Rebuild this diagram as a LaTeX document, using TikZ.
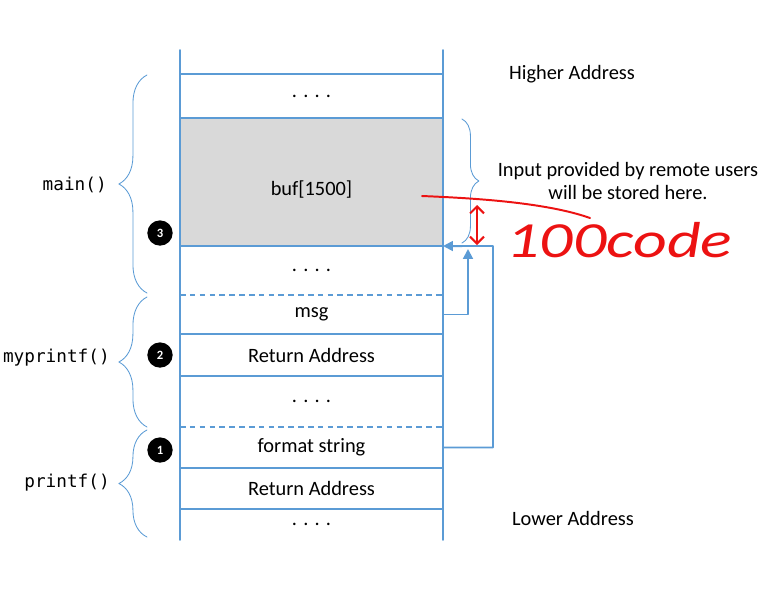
\documentclass[tikz,border=0pt]{standalone}
\usepackage{fontspec}
\setmainfont{Carlito}
\newfontfamily\codefont{DejaVu Sans Mono}
\usetikzlibrary{arrows.meta,decorations.pathreplacing}
\definecolor{stackblue}{RGB}{91,155,213}
\definecolor{bufgray}{RGB}{217,217,217}
\definecolor{inkred}{RGB}{236,18,18}
\tikzset{
  cell/.style={minimum width=6.575cm,inner sep=0pt,outer sep=0pt},
  numdot/.style={circle,fill=black,text=white,inner sep=0pt,minimum size=18pt,font=\bfseries\small},
  framebrace/.style={stackblue,line width=0.6pt,decorate,decoration={brace,amplitude=20pt}},
  funclbl/.style={anchor=east,inner sep=0pt,font=\codefont\fontsize{12.6}{15}\selectfont},
  link/.style={stackblue,line width=1.4pt,-{Triangle[length=7pt,width=7pt]}},
  ink/.style={inkred,line width=1.4pt}
}
\begin{document}
\begin{tikzpicture}[x=0.025cm,y=-0.025cm,line cap=round,line join=round,font=\fontsize{14.5}{17}\selectfont]
  \useasboundingbox (0,0) rectangle (783,593);
  % stack cells
  \node[cell,fill=bufgray,minimum height=3.2cm] (buf) at (311.5,182) {};
  \foreach \y/\h/\nm/\txt in {96/44/top/{. . . .},270.5/49/gapa/{. . . .},314.5/39/msg/msg,355/42/reta/Return Address,401.5/51/gapb/{. . . .},447.5/41/fmt/format string,488.5/41/retb/Return Address,524.5/31/bot/{. . . .}}
    \node[cell,minimum height=\h*0.025cm] (\nm) at (311.5,\y) {\txt};
  \node (buftxt) at (311.5,190) {buf[1500]};
  % frame
  \draw[stackblue,line width=1.2pt] (180,50) -- (180,540) (443,50) -- (443,540);
  \foreach \y in {74,118,246,334,376,468,509}
    \draw[stackblue,line width=1.2pt] (180,\y) -- (443,\y);
  \foreach \y in {295,427}
    \draw[stackblue,line width=1.2pt,dash pattern=on 4pt off 3pt,line cap=butt] (180,\y) -- (443,\y);
  % frames of the functions
  \draw[framebrace] (147,293) -- (147,75);
  \draw[framebrace] (147,427) -- (147,297);
  \draw[framebrace] (147,537) -- (147,430);
  \node[funclbl] (mainlbl) at (107,185) {main()};
  \node[funclbl] (mylbl) at (110,358) {myprintf()};
  \node[funclbl] (prlbl) at (110,483) {printf()};
  \draw[framebrace,decoration={amplitude=12pt}] (462,119) -- (462,243);
  \node[align=center] (input) at (628,181) {Input provided by remote users\\will be stored here.};
  \node (high) at (572,74) {Higher Address};
  \node (low) at (573,518) {Lower Address};
  % numbered steps
  \foreach \x/\y/\nm/\n in {160/233/stepc/3,160/355/stepb/2,160/450/stepa/1}
    \node[numdot] (\nm) at (\x,\y) {\n};
  % pointers
  \coordinate (tipa) at (468,249);
  \coordinate (turnb) at (493,246);
  \draw[link] (msg.east) -| (tipa);
  \draw[link] (fmt.east) -| (turnb) -- (buf.south east);
  % red notes
  \draw[ink] (422,196) .. controls (470,198) and (545,202) .. (590,218);
  \draw[ink,{Straight Barb[length=5pt,width=10pt]}-{Straight Barb[length=5pt,width=10pt]}] (477,205) -- (477,245);
  \node[inkred,font=\fontsize{36}{36}\selectfont\itshape,anchor=west,xscale=1.3] (note) at (500,240) {100code};
\end{tikzpicture}
\end{document}
